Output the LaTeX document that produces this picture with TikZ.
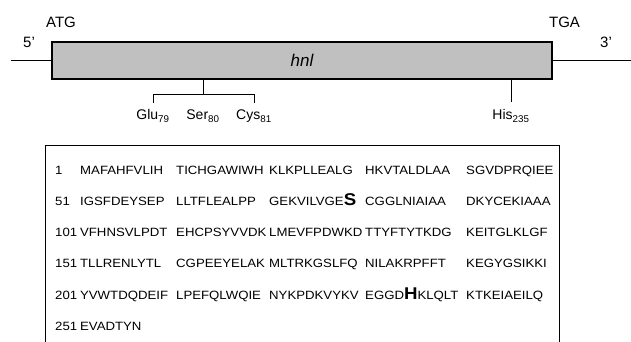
\documentclass[tikz,border=0pt]{standalone}
\usepackage{fontspec}
\setmainfont{Liberation Sans}
% slightly widened face for the sequence listing
\newfontfamily\seqfont[FakeStretch=1.1]{Liberation Sans}
\definecolor{genegray}{RGB}{192,192,192}
% enlarged residue letter inside a sequence block
\newcommand\bigres[1]{{\fontsize{17}{18}\selectfont\bfseries #1}}
\begin{document}
\begin{tikzpicture}[x=1pt,y=-1pt,
  line/.style={line width=1pt,black},
  genebox/.style={draw,line width=1.2pt,fill=genegray,inner sep=0,
    minimum width=500pt,minimum height=37pt,
    font=\fontsize{17}{20}\selectfont\itshape},
  endlabel/.style={anchor=base,inner sep=0,font=\fontsize{15}{18}\selectfont},
  reslabel/.style={anchor=base,inner sep=0,font=\fontsize{14}{17}\selectfont},
  seq/.style={anchor=base west,inner sep=0,font=\seqfont\fontsize{12}{14}\selectfont}]
\useasboundingbox (0,0) rectangle (631,342);

% gene with flanking DNA
\node[genebox] (gene) at (302,60.5) {hnl};
\coordinate (left) at (11,61);
\coordinate (right) at (631,61);
\draw[line] (left) -- (gene.west |- left);
\draw[line] (gene.east |- right) -- (right);

\node[endlabel] (atg) at (61,28) {ATG};
\node[endlabel] (p5) at (29,48) {5'};
\node[endlabel] (tga) at (564.5,28) {TGA};
\node[endlabel] (p3) at (606,48) {3'};

% catalytic residues
\coordinate (stem) at (203,79);
\coordinate (fork) at (203,95);
\coordinate (forkL) at (153,95);
\coordinate (forkR) at (254,95);
\coordinate (tipL) at (153,103);
\coordinate (tipR) at (254,103);
\coordinate (hisTop) at (511,79);
\coordinate (hisTip) at (511,102);
\draw[line] (stem) -- (fork);
\draw[line] (tipL) -- (forkL) -- (forkR) -- (tipR);
\draw[line] (hisTop) -- (hisTip);

\node[reslabel] (glu) at (153,120) {Glu\textsubscript{79}};
\node[reslabel] (ser) at (203,120) {Ser\textsubscript{80}};
\node[reslabel] (cys) at (254,120) {Cys\textsubscript{81}};
\node[reslabel] (his) at (511,120) {His\textsubscript{235}};

% sequence panel (open at the bottom)
\draw[line] (45,342) -- (45,145) -- (559,145) -- (559,342);

\node[seq] (n1) at (55,174.5) {1};
\node[seq] (a1) at (80,174.5) {MAFAHFVLIH};
\node[seq] (b1) at (176,174.5) {TICHGAWIWH};
\node[seq] (c1) at (269,174.5) {KLKPLLEALG};
\node[seq] (d1) at (365,174.5) {HKVTALDLAA};
\node[seq] (e1) at (466,174.5) {SGVDPRQIEE};

\node[seq] (n2) at (55,205.5) {51};
\node[seq] (a2) at (80,205.5) {IGSFDEYSEP};
\node[seq] (b2) at (176,205.5) {LLTFLEALPP};
\node[seq] (c2) at (269,205.5) {GEKVILVGE\bigres{S}};
\node[seq] (d2) at (365,205.5) {CGGLNIAIAA};
\node[seq] (e2) at (466,205.5) {DKYCEKIAAA};

\node[seq] (n3) at (55,236.5) {101};
\node[seq] (a3) at ([xshift=2.5pt]n3.base east) {VFHNSVLPDT};
\node[seq] (b3) at (176,236.5) {EHCPSYVVDK};
\node[seq] (c3) at (269,236.5) {LMEVFPDWKD};
\node[seq] (d3) at (365,236.5) {TTYFTYTKDG};
\node[seq] (e3) at (466,236.5) {KEITGLKLGF};

\node[seq] (n4) at (55,267.5) {151};
\node[seq] (a4) at ([xshift=2.5pt]n4.base east) {TLLRENLYTL};
\node[seq] (b4) at (176,267.5) {CGPEEYELAK};
\node[seq] (c4) at (269,267.5) {MLTRKGSLFQ};
\node[seq] (d4) at (365,267.5) {NILAKRPFFT};
\node[seq] (e4) at (466,267.5) {KEGYGSIKKI};

\node[seq] (n5) at (55,299) {201};
\node[seq] (a5) at ([xshift=2.5pt]n5.base east) {YVWTDQDEIF};
\node[seq] (b5) at (176,299) {LPEFQLWQIE};
\node[seq] (c5) at (269,299) {NYKPDKVYKV};
\node[seq] (d5) at (365,299) {EGGD\bigres{H}KLQLT};
\node[seq] (e5) at (466,299) {KTKEIAEILQ};

\node[seq] (n6) at (55,330) {251};
\node[seq] (a6) at ([xshift=2.5pt]n6.base east) {EVADTYN};
\end{tikzpicture}
\end{document}
